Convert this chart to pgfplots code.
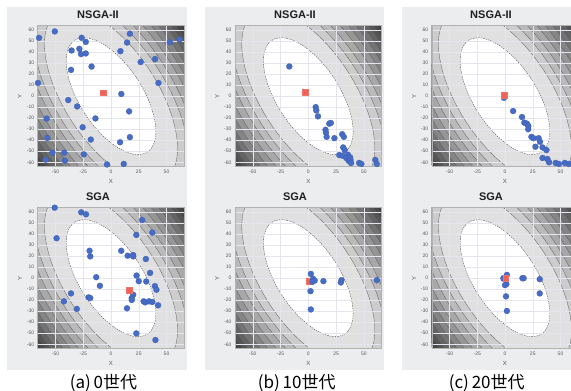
\documentclass[border=0pt]{standalone}
\usepackage{fontspec}
\setmainfont{Liberation Sans}
\newfontfamily\jp{Noto Sans CJK JP}
\usepackage{pgfplots}
\pgfplotsset{compat=1.18}

\definecolor{ptblue}{RGB}{70,108,198}
\definecolor{ptred}{RGB}{240,98,88}
\definecolor{panelgray}{RGB}{236,237,239}

\newcommand{\ctr}[3]{\filldraw[fill=black!#3, draw=black!65, line width=0.3pt] (axis cs:0,0) ellipse [x radius=#1, y radius=#2, rotate=-57];}
\newcommand{\contours}{%
  \fill[black!80] (rel axis cs:0,0) rectangle (rel axis cs:1,1);
  \ctr{189.7}{90.1}{76}
  \ctr{184.9}{87.8}{72}
  \ctr{179.0}{85.0}{67}
  \ctr{171.8}{81.6}{61}
  \ctr{163.2}{77.5}{55}
  \ctr{153.0}{72.7}{48}
  \ctr{142.0}{67.4}{41}
  \ctr{130.1}{61.8}{34}
  \ctr{117.0}{55.6}{27}
  \ctr{103.9}{49.4}{20}
  \ctr{89.0}{42.3}{12}
  \fill[white] (axis cs:0,0) ellipse [x radius=60, y radius=28.5, rotate=-57];
  \draw[black!70, line width=0.35pt, dash pattern=on 1.6pt off 0.9pt] (axis cs:0,0) ellipse [x radius=60, y radius=28.5, rotate=-57];
}

\pgfplotsset{
  panel/.style={
    scale only axis, width=146.6pt, height=141pt,
    anchor=north west,
    xmin=-66, xmax=66, ymin=-64, ymax=64,
    xtick={-50,-25,0,25,50}, ytick={-60,-50,...,60},
    major tick length=0pt,
    tick label style={font=\fontsize{5}{6}\selectfont, text=black!65},
    /pgf/number format/assume math mode=true,
    axis line style={draw=black!30, line width=0.4pt},
    grid=major, grid style={draw=blue!30!black!10, line width=0.25pt},
    axis on top,
    xlabel={X}, ylabel={Y},
    label style={font=\fontsize{6}{7}\selectfont, text=black!65},
    xlabel style={yshift=1pt}, ylabel style={yshift=-2pt},
    clip mode=global,
  },
  bluepts/.style={only marks, mark=*, mark size=3pt, mark options={fill=ptblue, draw=ptblue!85!black, line width=0.2pt}},
  redpt/.style={only marks, mark=square*, mark size=2.9pt, mark options={fill=ptred, draw=ptred!90!white, line width=0.2pt}},
}

\begin{document}
\begin{tikzpicture}
\useasboundingbox (0pt,0pt) rectangle (571pt,391pt);
\clip (0pt,0pt) rectangle (571pt,391pt);
\fill[panelgray] (7pt,21pt) rectangle (187pt,384pt);
\fill[panelgray] (205pt,21pt) rectangle (384pt,384pt);
\fill[panelgray] (402pt,21pt) rectangle (580pt,384pt);

% ---------- top row: NSGA-II ----------
\begin{axis}[panel, at={(37.7pt,365.3pt)}]
\contours
\addplot[bluepts] table {
x y
-64.8 53
-50.6 58.8
-26.4 53
-22.7 49.3
-28.5 43
-35.5 41.5
-27 38.2
-22.7 38.8
-36 23.9
-17.5 26.9
-65.8 12
-38.5 -3.5
-30.5 -9.3
-14 -20.2
-57.9 -20.3
-57.3 -37.9
-25.5 -28.2
-18.2 -39.4
-52.7 -51.3
-42.1 -51.3
-41.5 -58.5
-58.8 -57.6
-24.5 -52.8
-3.6 -62
11.5 -61.5
9.3 2
8.5 40.9
14.5 48.7
17 56.7
26.7 31
39.7 33.7
42.7 12
16.3 -13.8
8.2 -41.8
17 -37.2
53 49
61.8 51.6
};
\addplot[redpt] coordinates {(-6.8,3.2)};
\end{axis}

\begin{axis}[panel, at={(235pt,365.3pt)}]
\contours
\addplot[bluepts] table {
x y
-17.1 27
6.7 -9.9
7.2 -12.9
8.7 -18.3
18.9 -24.9
20.3 -24.3
15.5 -30.5
15.9 -33
16.5 -36.9
23.5 -38.1
30.5 -34.5
32 -36.9
31.4 -46.5
32.8 -48.9
27.9 -53.4
30.7 -54
35.7 -53.2
34.2 -56.1
37.7 -55.6
36.3 -58.6
38 -57.7
38.5 -60.6
45.8 -60.6
47.8 -61.5
60.3 -57.9
61.7 -61.5
};
\addplot[redpt] coordinates {(-3.2,3.6)};
\end{axis}

\begin{axis}[panel, at={(431.7pt,365.3pt)}]
\contours
\addplot[bluepts] table {
x y
-0.9 -1.5
7.3 -13.5
15.3 -18.9
17.4 -24
19.7 -24.9
21 -27
20.9 -30
23.8 -36.9
25.6 -38.1
30.3 -38.1
31.5 -41.4
27.4 -45.9
33.8 -46.5
37.3 -48.9
33.8 -56.1
38.2 -57
39.7 -60
45.6 -60.6
48.5 -61.5
53.8 -60.6
57.4 -61.5
};
\addplot[redpt] coordinates {(-0.8,1.2)};
\end{axis}

% ---------- bottom row: SGA ----------
\begin{axis}[panel, at={(37.7pt,183.3pt)}]
\contours
\addplot[bluepts] table {
x y
-50.7 64
-26.8 59.8
-22.5 58
28 52.8
-49 36.3
37.2 41.4
22.8 39.3
-19.3 24.9
-18.7 19.8
9.2 24.9
15 20.4
19.9 21
20 19.8
31.4 17.4
35.2 4.8
23 2.4
25 -2.7
31.7 -3
-13.3 0.9
-10 -6.9
39.5 -7.2
40.9 -10.5
-36 -13.8
-20.2 -17.4
-18.7 -18
20 -15
18.7 -18
18.7 -19.8
-42.4 -21
29.4 -21
30.8 -21.9
34.3 -21
37.2 -21.6
42.4 -24.6
14.4 -27.3
-30.8 -27.9
22.8 -50.1
40 -56.1
};
\addplot[redpt] coordinates {(16.4,-10.5)};
\end{axis}

\begin{axis}[panel, at={(235pt,183.3pt)}]
\contours
\addplot[redpt] coordinates {(0.9,-2.7)};
\addplot[bluepts] table {
x y
2.3 3.9
4.3 -0.6
5.8 -2.1
3.8 -3.3
13.6 -2.7
29.9 -1.8
29.3 -3.9
2 -11.8
2.3 -28.4
61.7 -1.8
};
\end{axis}

\begin{axis}[panel, at={(431.7pt,183.3pt)}]
\contours
\addplot[bluepts] table {
x y
1.7 3
-0.9 -0.6
-1.5 0
1.2 -5.4
0 -6.3
15.7 0
16.8 0
31.3 -0.9
31.3 -13.8
0.9 -16.5
1.7 -29.7
};
\addplot[redpt] coordinates {(0.6,0)};
\end{axis}

% ---------- titles ----------
\foreach \cx in {98,295,491}{
  \node[font=\bfseries\fontsize{11}{13}\selectfont, text=black!88] at (\cx pt,376.3pt) {NSGA-II};
  \node[font=\bfseries\fontsize{11}{13}\selectfont, text=black!88] at (\cx pt,194.3pt) {SGA};
}
% ---------- captions ----------
\node[font=\jp\fontsize{17}{20}\selectfont] at (103.5pt,7.5pt) {(a)\,0世代};
\node[font=\jp\fontsize{17}{20}\selectfont] at (296.7pt,7.5pt) {(b)\,10世代};
\node[font=\jp\fontsize{17}{20}\selectfont] at (486.7pt,7.5pt) {(c)\,20世代};
\end{tikzpicture}
\end{document}
